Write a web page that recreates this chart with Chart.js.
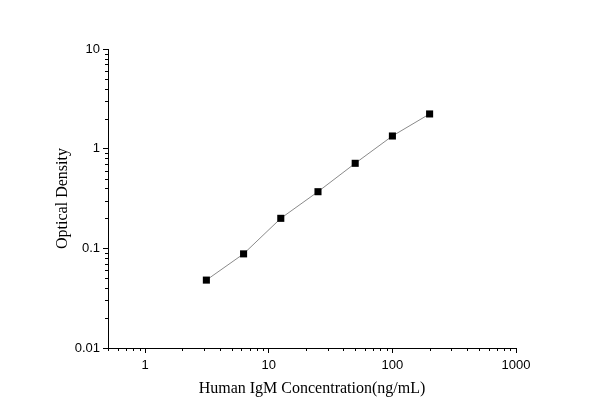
<!DOCTYPE html>
<html>
<head>
<meta charset="utf-8">
<script src="https://cdn.jsdelivr.net/npm/chart.js@4/dist/chart.umd.min.js"></script>
<style>
html,body{margin:0;padding:0;background:#fff;}
#wrap{width:600px;height:419px;}
</style>
</head>
<body>
<div id="wrap"><canvas id="c" width="600" height="419"></canvas></div>
<script>
const concentrations = [3.125, 6.25, 12.5, 25, 50, 100, 200];
const opticalDensity = [0.048, 0.088, 0.200, 0.37, 0.713, 1.34, 2.23];
const xTicks = [1, 10, 100, 1000];
const yTicks = [0.01, 0.1, 1, 10];
const xTitle = 'Human IgM Concentration(ng/mL)';
const yTitle = 'Optical Density';

const points = concentrations.map((x, i) => ({x: x, y: opticalDensity[i]}));

function minorValues(min, max) {
  const out = [];
  for (let p = Math.floor(Math.log10(min)); p <= Math.ceil(Math.log10(max)); p++) {
    for (let m = 1; m <= 9; m++) {
      const v = m * Math.pow(10, p);
      if (m !== 1 && v >= min - 1e-12 && v <= max + 1e-12) out.push(v);
    }
  }
  return out;
}

const minorTicks = {
  id: 'minorTicks',
  afterDraw(chart) {
    const ctx = chart.ctx;
    const xs = chart.scales.x, ys = chart.scales.y;
    ctx.save();
    ctx.strokeStyle = '#000';
    ctx.lineWidth = 1;
    ctx.beginPath();
    minorValues(xs.min, xs.max).forEach(v => {
      const px = Math.round(xs.getPixelForValue(v)) + 0.5;
      ctx.moveTo(px, ys.bottom);
      ctx.lineTo(px, ys.bottom + 3);
    });
    minorValues(ys.min, ys.max).forEach(v => {
      const py = Math.round(ys.getPixelForValue(v)) + 0.5;
      ctx.moveTo(xs.left, py);
      ctx.lineTo(xs.left - 3, py);
    });
    ctx.stroke();
    ctx.restore();
  }
};

new Chart(document.getElementById('c'), {
  type: 'scatter',
  data: {
    datasets: [{
      data: points,
      showLine: true,
      borderColor: '#8a8a8a',
      borderWidth: 1,
      pointStyle: 'rect',
      pointRadius: 5,
      pointBackgroundColor: '#000',
      pointBorderColor: '#000',
      pointBorderWidth: 0,
      tension: 0
    }]
  },
  options: {
    responsive: false,
    animation: false,
    devicePixelRatio: 1,
    layout: {padding: {left: 0, right: 84, top: 49, bottom: 0}},
    plugins: {legend: {display: false}, tooltip: {enabled: false}},
    scales: {
      x: {
        type: 'logarithmic',
        min: 0.5,
        max: 1000,
        afterBuildTicks(scale) { scale.ticks = xTicks.map(v => ({value: v, major: true})); },
        afterFit(scale) { scale.height = 71; },
        border: {display: true, color: '#000', width: 1},
        grid: {display: true, drawOnChartArea: false, drawTicks: true, tickLength: 5, color: '#000'},
        ticks: {
          color: '#000',
          padding: 5,
          maxRotation: 0,
          autoSkip: false,
          font: {family: 'Liberation Sans, Arial, sans-serif', size: 13},
          callback: v => String(v)
        },
        title: {
          display: true,
          text: xTitle,
          color: '#000',
          font: {family: 'Liberation Serif, Times New Roman, serif', size: 16},
          padding: {top: 0, bottom: 21}
        }
      },
      y: {
        type: 'logarithmic',
        min: 0.01,
        max: 10,
        afterBuildTicks(scale) { scale.ticks = yTicks.map(v => ({value: v, major: true})); },
        afterFit(scale) { scale.width = 108; },
        border: {display: true, color: '#000', width: 1},
        grid: {display: true, drawOnChartArea: false, drawTicks: true, tickLength: 5, color: '#000'},
        ticks: {
          color: '#000',
          padding: 3,
          autoSkip: false,
          font: {family: 'Liberation Sans, Arial, sans-serif', size: 13},
          callback: v => String(v)
        },
        title: {
          display: true,
          text: yTitle,
          color: '#000',
          font: {family: 'Liberation Serif, Times New Roman, serif', size: 16},
          padding: {top: 53, bottom: 0}
        }
      }
    }
  },
  plugins: [minorTicks]
});
</script>
</body>
</html>
